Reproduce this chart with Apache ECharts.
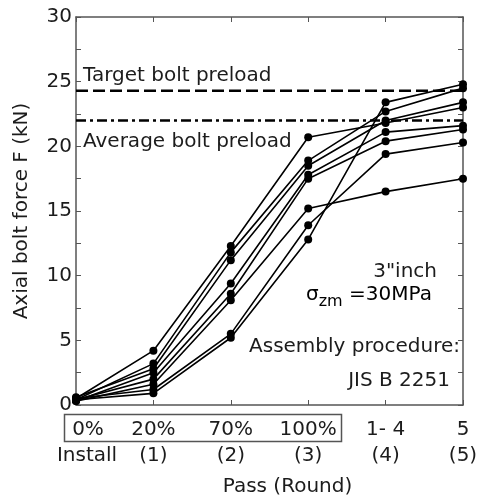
<!DOCTYPE html>
<html>
<head>
<meta charset="utf-8">
<script src="https://cdn.jsdelivr.net/npm/echarts/dist/echarts.min.js"></script>
<style>
  html, body { margin: 0; padding: 0; background: #fff; }
  #chart { width: 479px; height: 497px; }
</style>
</head>
<body>
<div id="chart"></div>
<script>
// Tightening stages along the x axis
const passLabels = ['0%', '20%', '70%', '100%', '1- 4', '5'];
const roundLabels = ['Install', '(1)', '(2)', '(3)', '(4)', '(5)'];

// Axial force of each bolt (kN) after every stage
const bolt1 = [0.5, 4.2, 12.3, 20.7, 21.8, 23.0];
const bolt2 = [0.4, 3.2, 11.8, 18.9, 22.7, 24.5];
const bolt3 = [0.6, 2.8, 11.2, 18.5, 22.0, 23.4];
const bolt4 = [0.3, 2.5, 9.4, 17.8, 21.1, 21.6];
const bolt5 = [0.4, 2.0, 8.6, 17.5, 20.4, 21.3];
const bolt6 = [0.3, 1.6, 8.1, 15.2, 16.5, 17.5];
const bolt7 = [0.5, 1.2, 5.5, 13.9, 19.4, 20.3];
const bolt8 = [0.4, 0.9, 5.2, 12.8, 23.4, 24.8];
const bolts = [bolt1, bolt2, bolt3, bolt4, bolt5, bolt6, bolt7, bolt8];

// Reference preload levels (kN)
const targetPreload = 24.3;
const averagePreload = 22.0;

const FONT = 'DejaVu Sans';
const TXT = '#1c1c1c';
const AX = '#555';

const chart = echarts.init(document.getElementById('chart'), null, { renderer: 'canvas' });

const boltSeries = bolts.map((b, k) => ({
  name: 'Bolt ' + (k + 1),
  type: 'line',
  data: b.map((v, i) => [i, v]),
  symbol: 'circle',
  symbolSize: 8,
  lineStyle: { color: '#000', width: 1.6 },
  itemStyle: { color: '#000' },
  z: 3
}));

function levelLine(name, value, dash) {
  return {
    name: name,
    type: 'line',
    data: [[0, value], [5, value]],
    symbol: 'none',
    lineStyle: { color: '#000', width: 2.5, type: dash },
    z: 2
  };
}

const frameLine = { show: true, onZero: false, lineStyle: { color: AX, width: 1.5 } };
const frameTick = { show: true, inside: true, length: 5, lineStyle: { color: AX } };

const option = {
  animation: false,
  backgroundColor: '#fff',
  grid: { left: 76, right: 16, top: 17, bottom: 92, containLabel: false, outerBoundsMode: 'none' },
  xAxis: [
    {
      type: 'value', min: 0, max: 5, interval: 1, position: 'bottom',
      axisLine: frameLine,
      axisTick: frameTick,
      splitLine: { show: false },
      axisLabel: {
        margin: 12,
        formatter: function (v) {
          const i = Math.round(v);
          const p = i === 0 ? 'p0' : 'p';
          const r = i === 0 ? 'r0' : 'r';
          return '{' + p + '|' + passLabels[i] + '}\n{' + r + '|' + roundLabels[i] + '}';
        },
        rich: {
          p: { fontFamily: FONT, fontSize: 20, color: TXT, lineHeight: 26 },
          r: { fontFamily: FONT, fontSize: 20, color: TXT, lineHeight: 26 },
          p0: { fontFamily: FONT, fontSize: 20, color: TXT, lineHeight: 26, padding: [0, 0, 0, 24] },
          r0: { fontFamily: FONT, fontSize: 20, color: TXT, lineHeight: 26, padding: [0, 0, 0, 22] }
        }
      },
      name: 'Pass (Round)',
      nameLocation: 'middle',
      nameGap: 72,
      nameTextStyle: { fontFamily: FONT, fontSize: 20, color: TXT, padding: [0, 0, 0, 36] }
    },
    {
      type: 'value', min: 0, max: 5, interval: 1, position: 'top',
      axisLine: frameLine,
      axisTick: frameTick,
      axisLabel: { show: false },
      splitLine: { show: false }
    }
  ],
  yAxis: [
    {
      type: 'value', min: 0, max: 30, interval: 2.5, position: 'left',
      axisLine: frameLine,
      axisTick: frameTick,
      splitLine: { show: false },
      axisLabel: {
        margin: 4,
        fontFamily: FONT, fontSize: 20, color: TXT,
        formatter: v => (v % 5 === 0 ? String(v) : '')
      },
      name: 'Axial bolt force F (kN)',
      nameLocation: 'middle',
      nameGap: 44,
      nameTextStyle: { fontFamily: FONT, fontSize: 20, color: TXT }
    },
    {
      type: 'value', min: 0, max: 30, interval: 2.5, position: 'right',
      axisLine: frameLine,
      axisTick: frameTick,
      axisLabel: { show: false },
      splitLine: { show: false }
    }
  ],
  series: [
    levelLine('Target bolt preload', targetPreload, [12, 5]),
    levelLine('Average bolt preload', averagePreload, [10, 4, 3, 4])
  ].concat(boltSeries),
  graphic: [
    { type: 'text', left: 83, top: 66, style: { text: 'Target bolt preload', font: '20px "DejaVu Sans"', fill: TXT } },
    { type: 'text', left: 83, top: 132, style: { text: 'Average bolt preload', font: '20px "DejaVu Sans"', fill: TXT } },
    { type: 'text', right: 42, top: 262, style: { text: '3"inch', font: '20px "DejaVu Sans"', fill: TXT } },
    {
      type: 'text', left: 306, top: 285,
      style: {
        text: '{s|σ}{z|zm}{n| =30MPa}',
        rich: {
          s: { fontFamily: FONT, fontSize: 20, color: TXT, height: 30, verticalAlign: 'middle' },
          z: { fontFamily: FONT, fontSize: 16, color: TXT, verticalAlign: 'bottom' },
          n: { fontFamily: FONT, fontSize: 20, color: TXT, verticalAlign: 'middle' }
        }
      }
    },
    { type: 'text', right: 19, top: 337, style: { text: 'Assembly procedure:', font: '20px "DejaVu Sans"', fill: TXT } },
    { type: 'text', right: 29, top: 371, style: { text: 'JIS B 2251', font: '20px "DejaVu Sans"', fill: TXT } },
    {
      type: 'rect', left: 62, top: 412,
      shape: { width: 277, height: 27 },
      style: { fill: 'none', stroke: AX, lineWidth: 1.5 }
    }
  ]
};

chart.setOption(option);
</script>
</body>
</html>
